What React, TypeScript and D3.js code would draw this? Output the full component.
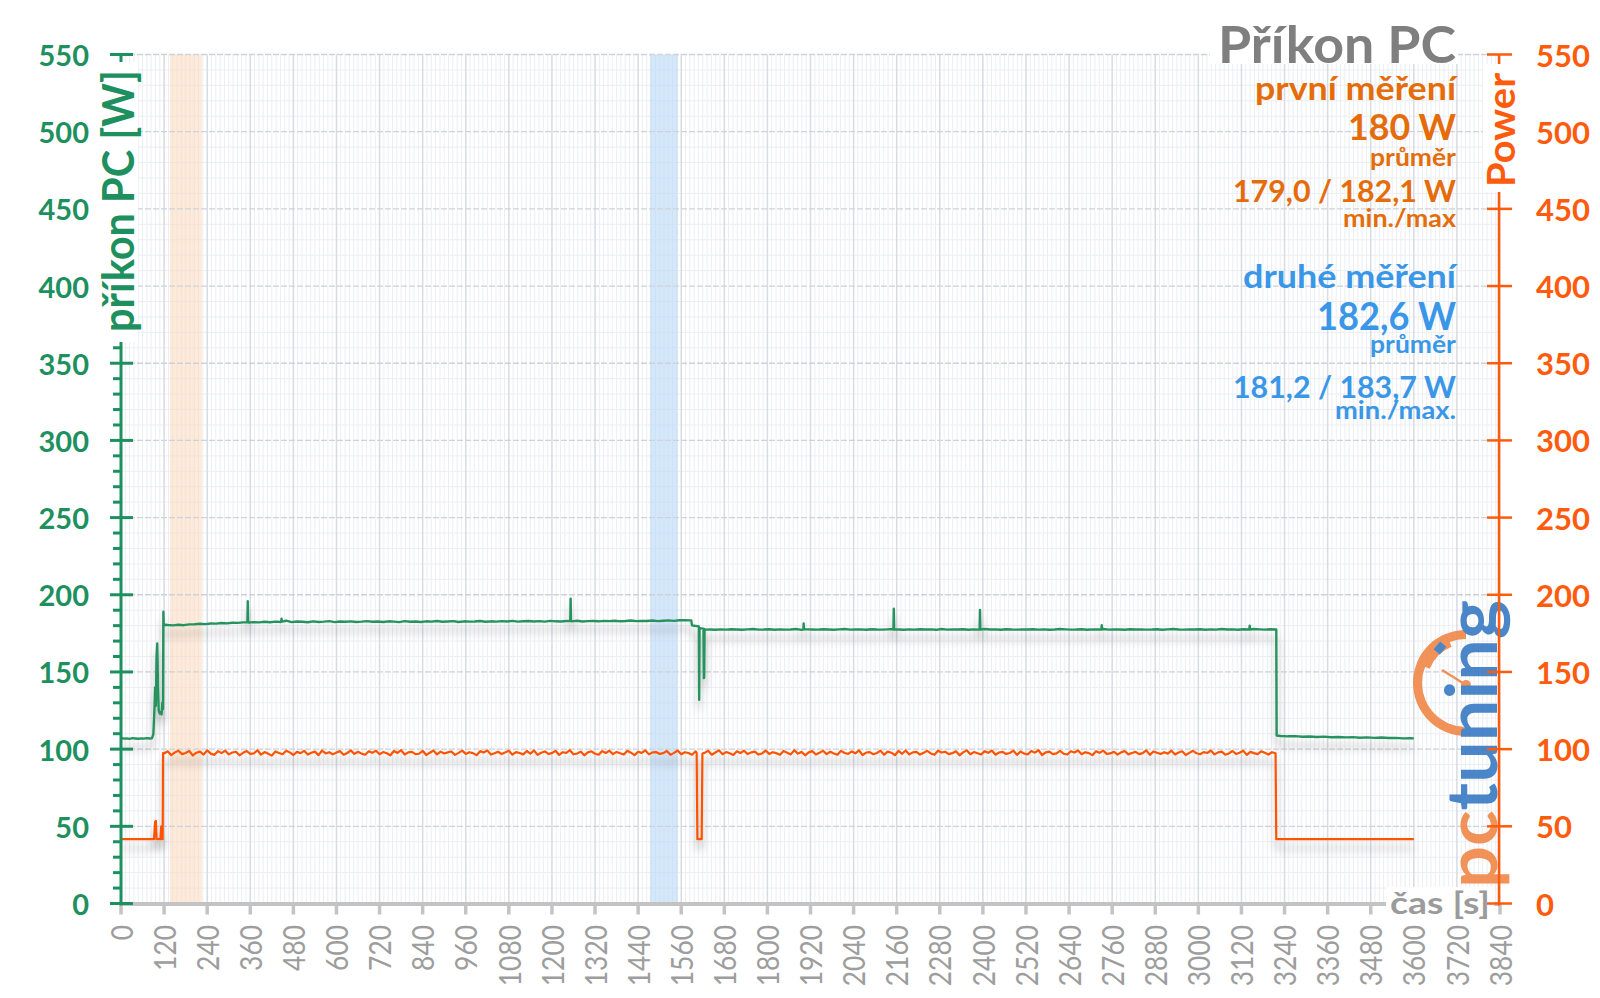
import React from "react";
import * as d3 from "d3";

// ---------------- data ----------------
const xTickValues = [0, 120, 240, 360, 480, 600, 720, 840, 960, 1080, 1200, 1320, 1440, 1560, 1680, 1800, 1920, 2040, 2160, 2280, 2400, 2520, 2640, 2760, 2880, 3000, 3120, 3240, 3360, 3480, 3600, 3720, 3840];
const yTickValues = [0, 50, 100, 150, 200, 250, 300, 350, 400, 450, 500, 550];
const yMinorTicks = [10, 20, 30, 40, 60, 70, 80, 90, 110, 120, 130, 140, 160, 170, 180, 190, 210, 220, 230, 240, 260, 270, 280, 290, 310, 320, 330, 340, 360, 370, 380, 390, 410, 420, 430, 440, 460, 470, 480, 490, 510, 520, 530, 540];

// highlighted time windows [start, end] in seconds
const bandOrange = [136, 225];
const bandBlue = [1473, 1551];

// green series (příkon PC)
const greenStartT = [0, 8, 16, 24, 32, 40, 48, 56, 64, 72, 80, 86, 90, 93, 95, 97, 99, 101, 103, 105, 108, 111, 113, 115, 117, 118, 119, 121, 124];
const greenStartW = [107.2, 106.8, 107.0, 106.6, 107.1, 106.9, 106.7, 107.0, 106.8, 107.1, 106.9, 107.0, 109.5, 125, 140, 128, 160, 168.5, 140, 125, 123, 124, 122.5, 130, 126, 189, 181, 180.2, 180.6];
const GREEN_RUN1_START = 130;
const GREEN_RUN_STEP = 15;
const greenRun1W = [
  180.4, 180.2, 180.6, 180.3, 180.8, 180.9, 181.2, 181.0, 181.4, 181.3, 181.7, 181.5, 181.9, 181.8, 182.1, 182.0, 182.3, 182.1, 182.5, 182.2,
  182.6, 182.4, 183.2, 182.3, 182.7, 182.5, 182.2, 182.8, 182.4, 182.6, 182.9, 182.3, 182.7, 182.5, 182.8, 182.4, 182.6, 182.9, 182.5, 182.7,
  182.4, 182.8, 182.6, 182.3, 182.9, 182.5, 182.7, 182.4, 182.8, 182.6, 183.0, 182.5, 182.7, 182.9, 182.4, 182.8, 182.6, 182.7, 183.0, 182.5,
  182.8, 182.6, 182.9, 182.7, 183.1, 182.6, 182.8, 183.0, 182.7, 182.9, 182.6, 183.1, 182.8, 182.7, 183.0, 182.8, 183.2, 182.7, 182.9, 183.0,
  182.8, 183.1, 182.9, 183.2, 182.8, 183.0, 183.3, 182.9, 183.1, 183.0, 183.3, 182.9, 183.2, 183.4, 183.1, 183.5, 183.6, 183.4,
];
const greenDipT = [1588, 1590, 1597, 1604, 1609, 1610, 1611, 1616, 1622, 1623, 1624, 1625, 1630];
const greenDipW = [183.3, 180.2, 179.9, 179.7, 179.5, 132, 178.6, 178.2, 178.0, 146, 146.5, 177.6, 177.4];
const GREEN_RUN2_START = 1640;
const greenRun2W = [
  177.5, 177.3, 177.6, 177.4, 177.7, 177.5, 177.3, 177.6, 177.8, 177.4, 177.5, 177.7, 177.3, 177.6, 177.4, 177.5, 177.8, 177.3, 177.6, 177.5,
  177.4, 177.7, 177.5, 177.3, 177.6, 177.8, 177.4, 177.5, 177.6, 177.3, 177.7, 177.5, 177.4, 177.6, 177.8, 177.5, 177.3, 177.6, 177.4, 177.7,
  177.5, 177.6, 177.3, 177.8, 177.4, 177.6, 177.5, 177.7, 177.3, 177.6, 177.4, 177.8, 177.5, 177.6, 177.3, 177.7, 177.5, 177.4, 177.6, 177.5,
  177.7, 177.4, 177.6, 177.3, 177.5, 177.8, 177.6, 177.4, 177.5, 177.7, 177.3, 177.6, 177.5, 177.8, 177.4, 177.6, 177.5, 177.3, 177.7, 177.5,
  177.6, 177.4, 177.5, 177.7, 177.3, 177.6, 177.8, 177.5, 177.4, 177.6, 177.5, 177.7, 177.3, 177.6, 177.4, 177.8, 177.5, 177.6, 177.3, 177.7,
  177.5, 177.8, 177.6, 177.4, 177.7, 177.5,
];
const greenEndT = [3217, 3218, 3230, 3250, 3270, 3290, 3310, 3330, 3350, 3370, 3390, 3410, 3430, 3450, 3470, 3490, 3510, 3530, 3550, 3570, 3590, 3600];
const greenEndW = [177.5, 108.8, 108.5, 108.3, 108.4, 108.0, 108.2, 107.9, 108.1, 107.7, 107.9, 107.6, 107.8, 107.4, 107.6, 107.3, 107.5, 107.2, 107.3, 107.0, 107.1, 107.0];
const greenSpikeT = [352, 353, 354, 446, 447, 448, 1251, 1252, 1253, 1900, 1901, 1902, 2151, 2152, 2153, 2391, 2392, 2393, 2730, 2731, 2732, 3142, 3143, 3144];
const greenSpikeW = [182.1, 195.8, 182.2, 182.5, 184.5, 182.6, 182.9, 197.5, 183.0, 177.5, 181.5, 177.6, 177.5, 191.0, 177.6, 177.6, 190.2, 177.5, 177.5, 180.3, 177.5, 177.6, 180.0, 177.5];

// orange series (Power)
const orangeStartT = [0, 92, 95, 97, 99, 110, 112, 113, 116, 117];
const orangeStartW = [41.7, 41.7, 53, 53.5, 41.7, 41.7, 50, 41.7, 41.7, 97.5];
const ORANGE_RUN1_START = 120;
const ORANGE_STEP = 10;
const orangeRun1W = [
  97.2, 98.6, 96.1, 97.9, 99.0, 96.8, 97.5, 98.9, 95.9, 97.7, 98.4, 96.5, 99.2, 97.1, 96.3, 98.7, 97.4, 99.1, 96.6, 97.8,
  98.3, 96.0, 97.6, 98.8, 96.9, 97.3, 99.3, 96.4, 98.1, 97.0, 95.8, 98.5, 97.5, 96.7, 99.0, 97.9, 96.2, 98.2, 97.4, 98.9,
  96.5, 97.7, 98.4, 96.1, 99.1, 97.2, 98.0, 96.6, 97.8, 98.7, 96.3, 97.5, 99.2, 96.9, 98.3, 97.1, 96.4, 98.6, 97.6, 99.0,
  96.7, 98.1, 97.3, 96.0, 98.8, 97.5, 99.3, 96.5, 97.9, 98.2, 96.8, 97.0, 98.9, 96.2, 97.7, 99.1, 96.6, 98.4, 97.2, 97.9,
  98.5, 96.3, 97.6, 99.0, 96.9, 98.0, 97.4, 96.1, 98.7, 97.8, 99.2, 96.5, 97.3, 98.3, 96.8, 97.9, 99.0, 96.4, 98.1, 97.5,
  96.6, 98.8, 97.1, 99.1, 96.3, 97.7, 98.5, 96.9, 97.4, 98.9, 96.2, 98.0, 97.6, 99.3, 96.7, 97.2, 98.4, 96.0, 97.9, 98.6,
  97.0, 96.4, 98.7, 97.5, 99.0, 96.8, 98.2, 97.3, 96.5, 98.9, 97.7, 96.1, 98.3, 97.6, 99.2, 96.6, 97.9, 98.1, 96.9, 97.4,
  98.8, 96.3, 97.6, 99.1, 96.7, 98.0, 97.5, 96.4, 98.6,
];
const orangeDipT = [1603, 1605, 1617, 1619];
const orangeDipW = [97.4, 41.7, 41.7, 97.2];
const ORANGE_RUN2_START = 1625;
const orangeRun2W = [
  97.6, 98.9, 96.4, 97.8, 99.2, 96.7, 98.1, 97.3, 96.2, 98.6, 97.5, 99.0, 96.8, 97.9, 98.4, 96.5, 97.2, 99.1, 96.9, 98.0,
  97.4, 96.3, 98.8, 97.7, 96.6, 99.3, 97.1, 98.2, 96.0, 97.9, 98.7, 96.5, 97.6, 99.0, 96.8, 98.3, 97.2, 96.4, 98.9, 97.5,
  96.9, 98.5, 97.3, 99.2, 96.2, 97.8, 98.1, 96.7, 97.5, 99.0, 96.4, 98.4, 97.7, 96.1, 98.8, 97.0, 99.1, 96.6, 97.9, 98.2,
  96.5, 97.6, 98.9, 97.2, 96.3, 99.0, 97.8, 98.3, 96.8, 97.4, 98.6, 96.0, 97.9, 99.2, 96.7, 98.1, 97.3, 96.5, 98.7, 97.6,
  99.1, 96.4, 97.8, 98.2, 96.9, 97.5, 99.0, 96.3, 98.5, 97.1, 96.6, 98.8, 97.7, 99.3, 96.2, 97.9, 98.4, 96.8, 97.3, 98.9,
  97.0, 96.5, 98.6, 97.8, 99.1, 96.7, 98.0, 97.4, 96.1, 98.7, 97.6, 99.0, 96.9, 97.2, 98.3, 96.4, 97.9, 98.8, 96.6, 97.5,
  98.2, 96.8, 97.4, 99.2, 96.3, 98.5, 97.7, 96.9, 98.0, 97.1, 99.0, 96.5, 97.8, 98.6, 96.2, 97.6, 98.9, 97.3, 96.7, 98.1,
  97.5, 99.1, 96.6, 97.9, 98.4, 96.4, 97.2, 98.8, 96.9, 97.7, 99.0, 96.3, 98.2, 97.4, 96.8, 98.6, 97.6, 96.5, 98.0, 97.3,
];
const orangeEndT = [3217, 3600];
const orangeEndW = [41.7, 41.7];

// ---------------- layout & style ----------------
const W = 1600;
const H = 998;
const X0 = 121;
const X1 = 1500;
const Y0 = 903.5;
const Y1 = 54.5;
const FONT = "Lato, 'Open Sans', 'DejaVu Sans', sans-serif";
const GREEN_AXIS = "#1E9060";
const GREEN_LINE = "#27935F";
const ORANGE_AXIS = "#FF5B0D";
const ORANGE_LINE = "#FF5200";
const ORANGE_TEXT = "#E46C0A";
const BLUE_TEXT = "#3A97E8";
const GRAY = "#7f7f7f";

type P = [number, number];
const zip = (t: number[], w: number[]): P[] => t.map((v, i) => [v, w[i]] as P);
const run = (start: number, step: number, w: number[]): P[] => w.map((v, i) => [start + i * step, v] as P);

const greenPts: P[] = [
  ...zip(greenStartT, greenStartW),
  ...run(GREEN_RUN1_START, GREEN_RUN_STEP, greenRun1W),
  ...zip(greenDipT, greenDipW),
  ...run(GREEN_RUN2_START, GREEN_RUN_STEP, greenRun2W),
  ...zip(greenEndT, greenEndW),
  ...zip(greenSpikeT, greenSpikeW),
].sort((a, b) => a[0] - b[0]);

const orangePts: P[] = [
  ...zip(orangeStartT, orangeStartW),
  ...run(ORANGE_RUN1_START, ORANGE_STEP, orangeRun1W),
  ...zip(orangeDipT, orangeDipW),
  ...run(ORANGE_RUN2_START, ORANGE_STEP, orangeRun2W),
  ...zip(orangeEndT, orangeEndW),
].sort((a, b) => a[0] - b[0]);

export default function App() {
  const x = d3.scaleLinear().domain([0, 3840]).range([X0, X1]);
  const yL = d3.scaleLinear().domain([0, 550]).range([Y0, Y1]);
  const yR = d3.scaleLinear().domain([0, 550]).range([Y0, Y1]);

  const greenLine = d3.line<P>().x((d) => x(d[0])).y((d) => yL(d[1]))(greenPts) || "";
  const orangeLine = d3.line<P>().x((d) => x(d[0])).y((d) => yR(d[1]))(orangePts) || "";

  const xMinor = d3.range(0, 3840, 12).filter((v) => v % 120 !== 0);

  const arcOuter = d3.arc()({ innerRadius: 44, outerRadius: 53, startAngle: Math.PI, endAngle: 2 * Math.PI } as any) || "";
  const arcThick = d3.arc()({ innerRadius: 39, outerRadius: 53, startAngle: 1.62 * Math.PI, endAngle: 1.88 * Math.PI } as any) || "";

  const rightText = (
    s: string, y: number, size: number, color: string, len: number, key: string
  ) => (
    <text key={key} x={1456} y={y} textAnchor="end" fontSize={size} fontWeight={700} fill={color}
      fontFamily={FONT} textLength={len} lengthAdjust="spacingAndGlyphs">{s}</text>
  );

  return (
    <svg width={W} height={H} style={{ position: "absolute", left: 0, top: 0, background: "#fff" }}>
      <defs>
        <filter id="shadow" x="-5%" y="-30%" width="110%" height="200%">
          <feDropShadow dx="0" dy="9" stdDeviation="4" floodColor="#000" floodOpacity="0.3" />
        </filter>
      </defs>
      <rect x={0} y={0} width={W} height={H} fill="#fff" />

      {/* minor grid */}
      {xMinor.map((v) => (
        <line key={"xm" + v} x1={x(v)} x2={x(v)} y1={Y1} y2={Y0} stroke="#eceef3" strokeWidth={1} />
      ))}
      {yMinorTicks.map((v) => (
        <line key={"ym" + v} x1={X0} x2={X1} y1={yL(v)} y2={yL(v)} stroke="#eceef3" strokeWidth={1} />
      ))}
      {/* bands */}
      <rect x={x(bandOrange[0])} width={x(bandOrange[1]) - x(bandOrange[0])} y={Y1} height={Y0 - Y1} fill="#FBD9BC" opacity={0.55} />
      <rect x={x(bandBlue[0])} width={x(bandBlue[1]) - x(bandBlue[0])} y={Y1} height={Y0 - Y1} fill="#B9D9F6" opacity={0.6} />
      {/* major grid */}
      {xTickValues.filter((v) => v > 0).map((v) => (
        <line key={"xg" + v} x1={x(v)} x2={x(v)} y1={Y1} y2={Y0} stroke="#d7dbe3" strokeWidth={1.5} />
      ))}
      {yTickValues.filter((v) => v > 0).map((v) => (
        <line key={"yg" + v} x1={X0} x2={X1} y1={yL(v)} y2={yL(v)} stroke="#cfd2d8" strokeWidth={1.3} strokeDasharray="6 2" />
      ))}

      {/* logo */}
      <g opacity={0.92}>
        <path d={arcOuter} transform="translate(1466,683)" fill="#F08A4B" />
        <path d={arcThick} transform="translate(1466,683)" fill="#F08A4B" />
        <rect x={-4} y={-5} width={8} height={10} fill="#3B7CC4" transform="translate(1440,648) rotate(40)" />
        <line x1={1466} y1={685} x2={1442} y2={670} stroke="#F08A4B" strokeWidth={2.5} />
        <circle cx={1466} cy={685} r={5} fill="#F08A4B" />
        <text transform="translate(1497,888) rotate(-90)" fontSize={70} fontWeight={700} fontFamily={FONT}
          textLength={288} lengthAdjust="spacingAndGlyphs">
          <tspan fill="#F08A4B">pc</tspan>
          <tspan fill="#3B7CC4">tuning</tspan>
        </text>
      </g>

      {/* series */}
      <path d={orangeLine} fill="none" stroke={ORANGE_LINE} strokeWidth={2.2} strokeLinejoin="round" filter="url(#shadow)" />
      <path d={greenLine} fill="none" stroke={GREEN_LINE} strokeWidth={2.4} strokeLinejoin="round" filter="url(#shadow)" />

      {/* x axis */}
      <line x1={X0} x2={X1} y1={Y0 + 0.5} y2={Y0 + 0.5} stroke="#c3c3c3" strokeWidth={4} />
      {xTickValues.map((v) => (
        <line key={"xt" + v} x1={x(v)} x2={x(v)} y1={Y0} y2={Y0 + 11} stroke="#c3c3c3" strokeWidth={3.5} />
      ))}
      {xTickValues.map((v) => (
        <text key={"xl" + v} transform={`translate(${x(v)},925) rotate(-90) scale(0.88,1)`} textAnchor="end"
          dominantBaseline="central" fontSize={30} fontFamily={FONT} fontWeight={400} fill="#9d9d9d">{v}</text>
      ))}
      <rect x={1386} y={887} width={108} height={38} fill="#fff" />
      <text x={1490} y={914} textAnchor="end" fontSize={31} fontWeight={700} fill="#9b9b9b" fontFamily={FONT}
        textLength={100} lengthAdjust="spacingAndGlyphs">čas [s]</text>

      {/* left axis */}
      <line x1={X0} x2={X0} y1={Y1} y2={Y0 + 2} stroke={GREEN_AXIS} strokeWidth={3} />
      {yMinorTicks.map((v) => (
        <line key={"lm" + v} x1={X0 - 8} x2={X0} y1={yL(v)} y2={yL(v)} stroke={GREEN_AXIS} strokeWidth={3} />
      ))}
      {yTickValues.map((v) => (
        <line key={"lt" + v} x1={X0 - 11} x2={X0 + 12} y1={yL(v)} y2={yL(v)} stroke={GREEN_AXIS} strokeWidth={3} />
      ))}
      {yTickValues.map((v) => (
        <text key={"ll" + v} x={89} y={yL(v)} textAnchor="end" dominantBaseline="central" fontSize={29}
          fontWeight={700} fill={GREEN_AXIS} fontFamily={FONT}>{v}</text>
      ))}
      <rect x={98} y={62} width={40} height={280} fill="#fff" />
      <text transform="translate(117,201) rotate(-90)" textAnchor="middle" dominantBaseline="central" fontSize={43}
        fontWeight={700} fill={GREEN_AXIS} fontFamily={FONT} textLength={262} lengthAdjust="spacingAndGlyphs">příkon PC [W]</text>

      {/* right axis */}
      <line x1={X1 - 1} x2={X1 - 1} y1={Y1} y2={Y0 + 2} stroke={ORANGE_AXIS} strokeWidth={2.5} />
      {yTickValues.map((v) => (
        <line key={"rt" + v} x1={X1 - 13} x2={X1 + 12} y1={yR(v)} y2={yR(v)} stroke={ORANGE_AXIS} strokeWidth={2.5} />
      ))}
      {yTickValues.map((v) => (
        <text key={"rl" + v} x={1536} y={yR(v)} textAnchor="start" dominantBaseline="central" fontSize={31}
          fontWeight={700} fill={ORANGE_AXIS} fontFamily={FONT}>{v}</text>
      ))}
      <rect x={1483} y={64} width={33} height={128} fill="#fff" />
      <text transform="translate(1500,130) rotate(-90)" textAnchor="middle" dominantBaseline="central" fontSize={38}
        fontWeight={700} fill={ORANGE_AXIS} fontFamily={FONT} textLength={114} lengthAdjust="spacingAndGlyphs">Power</text>

      {/* title & stats */}
      <rect x={1210} y={20} width={248} height={44} fill="#fff" />
      {rightText("Příkon PC", 63, 51, GRAY, 238, "t0")}
      {rightText("první měření", 100, 33, ORANGE_TEXT, 201, "t1")}
      {rightText("180 W", 140, 36, ORANGE_TEXT, 108, "t2")}
      {rightText("průměr", 166, 24, ORANGE_TEXT, 86, "t3")}
      {rightText("179,0 / 182,1 W", 202, 31, ORANGE_TEXT, 223, "t4")}
      {rightText("min./max", 227, 25, ORANGE_TEXT, 113, "t5")}
      {rightText("druhé měření", 288, 33, BLUE_TEXT, 213, "t6")}
      {rightText("182,6 W", 330, 38, BLUE_TEXT, 139, "t7")}
      {rightText("průměr", 353, 24, BLUE_TEXT, 86, "t8")}
      {rightText("181,2 / 183,7 W", 398, 31, BLUE_TEXT, 223, "t9")}
      {rightText("min./max.", 419, 25, BLUE_TEXT, 121, "t10")}
    </svg>
  );
}
